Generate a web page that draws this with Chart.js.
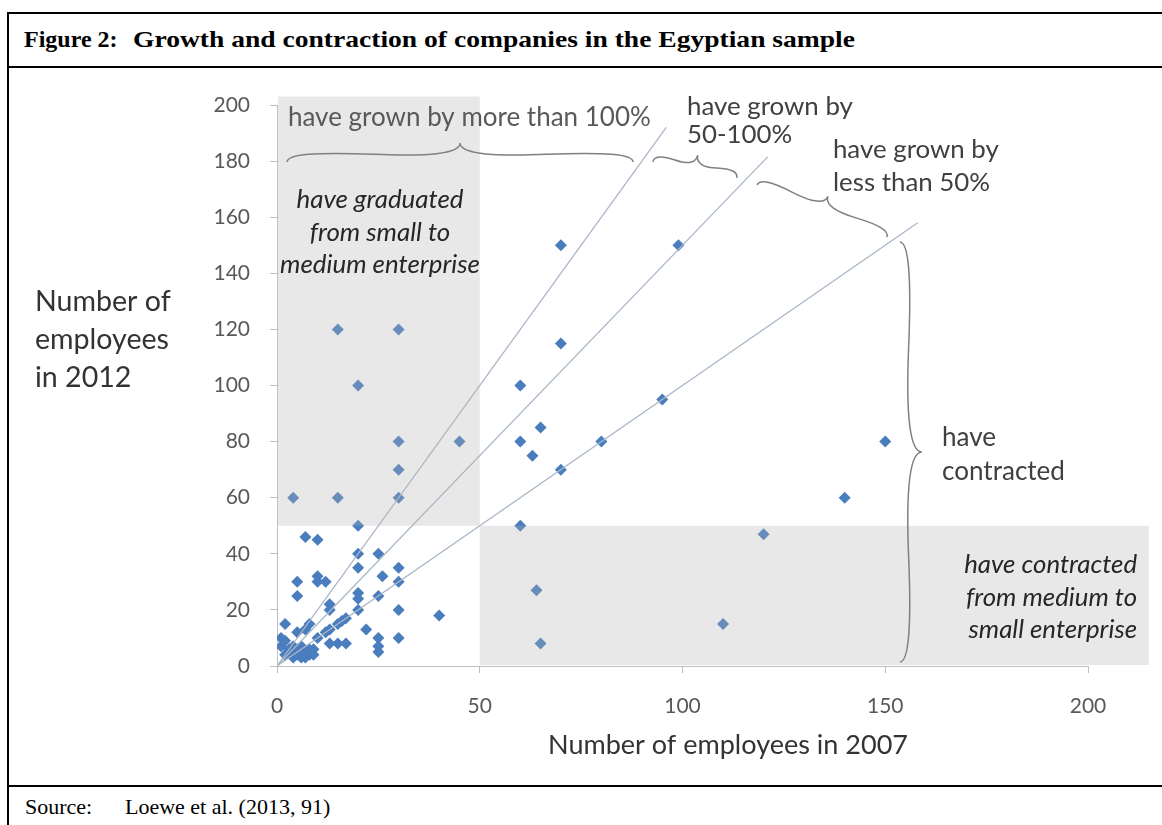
<!DOCTYPE html>
<html><head><meta charset="utf-8">
<script src="https://cdn.jsdelivr.net/npm/chart.js@4.4.1/dist/chart.umd.min.js"></script>
<style>
html,body{margin:0;padding:0;background:#fff;width:1162px;height:825px;overflow:hidden;}
.ln{position:absolute;background:#000;}
.t{position:absolute;font-family:"Liberation Serif","Times New Roman",serif;color:#000;white-space:nowrap;font-size:22px;line-height:22px;}
.h{font-size:24px;line-height:24px;font-weight:bold;}
#ttl{transform-origin:0 50%;}
#wrap{position:absolute;left:9px;top:68px;width:1151px;height:712px;}
</style></head><body>
<div class="ln" style="left:7px;top:12px;width:1155px;height:2px"></div>
<div class="ln" style="left:7px;top:12px;width:2px;height:813px"></div>
<div class="ln" style="left:7px;top:66px;width:1155px;height:2px"></div>
<div class="ln" style="left:7px;top:785px;width:1155px;height:2px"></div>
<div class="t h" style="left:24px;top:27px">Figure 2:</div>
<div class="t h" id="ttl" style="left:133px;top:27px">Growth and contraction of companies in the Egyptian sample</div>
<div class="t" style="left:25px;top:796px">Source:</div>
<div class="t" style="left:125px;top:796px">Loewe et al. (2013, 91)</div>
<div id="wrap"><canvas id="c" width="1151" height="712"></canvas></div>
<script>
// ---- data ----
const xTicks = [0, 50, 100, 150, 200];
const yTicks = [0, 20, 40, 60, 80, 100, 120, 140, 160, 180, 200];
// number of employees in 2007 / 2012, one entry per company
const emp2007 = [70, 99, 15, 30, 70, 20, 60, 95, 65, 30, 45, 60, 80, 150, 63, 30, 70, 4, 15, 30, 140, 20, 60, 120,
  7, 10, 20, 25, 20, 30, 10, 26, 5, 10, 12, 30, 64, 5, 20, 20, 25, 13, 13, 20, 30, 40, 17, 16, 15, 2, 8, 7, 13, 22,
  5, 12, 110, 10, 25, 30, 65, 13, 15, 17, 25, 25,
  1, 2, 1, 3, 4, 5, 6, 7, 8, 9, 2, 4, 6, 7, 5, 8, 3, 6, 9];
const emp2012 = [150, 150, 120, 120, 115, 100, 100, 95, 85, 80, 80, 80, 80, 80, 75, 70, 70, 60, 60, 60, 60, 50, 50, 47,
  46, 45, 40, 40, 35, 35, 32, 32, 30, 30, 30, 30, 27, 25, 26, 24, 25, 22, 20, 20, 20, 18, 17, 16, 15, 15, 15, 13, 13, 13,
  12, 12, 15, 10, 10, 10, 8, 8, 8, 8, 7, 5,
  10, 9, 7, 6, 7, 6, 7, 5, 6, 4, 4, 3, 3, 3, 4, 4, 5, 5, 6];
// guide lines: growth factor (2012/2007) and the 2007 value where each line stops
const guideFactors = [2, 1.5, 1];
const guideEnds = [96, 121, 158];

// fit title width to the reference
(function () {
  const t = document.getElementById('ttl');
  const w = t.getBoundingClientRect().width;
  t.style.transform = 'scaleX(' + (722 / w).toFixed(4) + ')';
})();

// ---- chart ----
const FONT = 'Lato';
const points = emp2007.map((v, i) => ({x: v, y: emp2012[i]}));
const guideSets = guideFactors.map((f, i) => ({
  data: [{x: 0, y: 0}, {x: guideEnds[i], y: guideEnds[i] * f}],
  showLine: true, borderColor: '#A9B6C8', borderWidth: 1.3, pointRadius: 0, fill: false
}));

function brace(ctx, x1, y1, x2, y2, w, q) {
  let dx = x1 - x2, dy = y1 - y2;
  const len = Math.hypot(dx, dy); dx /= len; dy /= len;
  const qx1 = x1 + q * w * dy, qy1 = y1 - q * w * dx;
  const qx2 = (x1 - .25 * len * dx) + (1 - q) * w * dy, qy2 = (y1 - .25 * len * dy) - (1 - q) * w * dx;
  const tx = (x1 - .5 * len * dx) + w * dy, ty = (y1 - .5 * len * dy) - w * dx;
  const qx3 = x2 + q * w * dy, qy3 = y2 - q * w * dx;
  const qx4 = (x1 - .75 * len * dx) + (1 - q) * w * dy, qy4 = (y1 - .75 * len * dy) - (1 - q) * w * dx;
  ctx.beginPath();
  ctx.moveTo(x1, y1);
  ctx.quadraticCurveTo(qx1, qy1, qx2, qy2);
  ctx.quadraticCurveTo(2 * qx2 - qx1, 2 * qy2 - qy1, tx, ty);
  ctx.moveTo(x2, y2);
  ctx.quadraticCurveTo(qx3, qy3, qx4, qy4);
  ctx.quadraticCurveTo(2 * qx4 - qx3, 2 * qy4 - qy3, tx, ty);
  ctx.stroke();
}
function fitSize(ctx, text, style, target) {
  ctx.font = style + ' 30px ' + FONT;
  return 30 * target / ctx.measureText(text).width;
}
function lines(ctx, arr, x, ys, align, style, size, color) {
  ctx.font = style + ' ' + size.toFixed(2) + 'px ' + FONT;
  ctx.fillStyle = color; ctx.textAlign = align; ctx.textBaseline = 'middle';
  arr.forEach((s, i) => ctx.fillText(s, x, ys[i]));
}

const annot = {
  id: 'annot',
  afterDatasetsDraw(chart) {
    const {ctx, scales: {x, y}} = chart;
    const X = v => x.getPixelForValue(v), Y = v => y.getPixelForValue(v);
    ctx.save();
    ctx.fillStyle = 'rgba(178,178,178,0.3)';
    ctx.fillRect(X(0) + 1, Y(203), X(50) - X(0) - 1, Y(50) - Y(203));
    ctx.fillRect(X(50), Y(50), X(215) - X(50), Y(0) - Y(50) - 1);
    ctx.restore();
  },
  afterDraw(chart) {
    const {ctx, scales: {x, y}} = chart;
    const X = v => x.getPixelForValue(v), Y = v => y.getPixelForValue(v);
    ctx.save();
    ctx.strokeStyle = '#808080'; ctx.lineWidth = 1.5;
    brace(ctx, X(87.8), Y(179.7), X(2.5), Y(179.7), 19, 0.6);
    brace(ctx, X(113.4), Y(174), X(92.7), Y(179.7), 15, 0.6);
    brace(ctx, X(150.4), Y(152.9), X(118.4), Y(171.5), 16, 0.6);
    brace(ctx, X(153.6), Y(1.4), X(153.6), Y(151.2), 22, 0.6);

    let s = fitSize(ctx, 'have grown by more than 100%', '', 363);
    lines(ctx, ['have grown by more than 100%'], X(2.7), [Y(195.4)], 'left', '', s, '#595959');
    s = fitSize(ctx, 'have grown by', '', 166);
    lines(ctx, ['have grown by', '50-100%'], X(101.1), [Y(199.3), Y(189.3)], 'left', '', s, '#404040');
    lines(ctx, ['have grown by', 'less than 50%'], X(137.1), [Y(184), Y(172.2)], 'left', '', s, '#404040');
    s = fitSize(ctx, 'medium enterprise', 'italic', 200);
    lines(ctx, ['have graduated', 'from small to', 'medium enterprise'], X(25.4), [Y(166.1), Y(154.4), Y(143)], 'center', 'italic', s, '#262626');
    s = fitSize(ctx, 'contracted', '', 123);
    lines(ctx, ['have', 'contracted'], X(164), [Y(81.3), Y(69.2)], 'left', '', s, '#404040');
    s = fitSize(ctx, 'have contracted', 'italic', 173);
    lines(ctx, ['have contracted', 'from medium to', 'small enterprise'], X(212.1), [Y(36), Y(24.2), Y(12.8)], 'right', 'italic', s, '#262626');
    s = fitSize(ctx, 'employees', '', 134);
    lines(ctx, ['Number of', 'employees', 'in 2012'], 26, [234, 272, 310], 'left', '', s, '#333333');
    s = fitSize(ctx, 'Number of employees in 2007', '', 360);
    lines(ctx, ['Number of employees in 2007'], 719, [677], 'center', '', s, '#333333');
    ctx.restore();
  }
};

const axisCommon = {
  type: 'linear', min: 0, max: 200,
  grid: {display: true, drawOnChartArea: false, drawTicks: true, tickLength: 7, color: '#BFBFBF'},
  border: {display: true, color: '#BFBFBF', width: 1},
};
new Chart(document.getElementById('c'), {
  type: 'scatter',
  data: {datasets: [
    ...guideSets,
    {data: points, pointStyle: 'rectRot', pointRadius: 6, backgroundColor: '#4A7DBE', borderWidth: 0}
  ]},
  options: {
    responsive: false, animation: false, events: [],
    layout: {padding: {left: 0, right: 72, top: 37, bottom: 0}},
    plugins: {legend: {display: false}, tooltip: {enabled: false}},
    scales: {
      x: {...axisCommon,
        afterBuildTicks: s => { s.ticks = xTicks.map(v => ({value: v})); },
        ticks: {font: {family: FONT, size: 21}, color: '#595959', padding: 21, maxRotation: 0},
        afterFit: s => { s.height = 114; }
      },
      y: {...axisCommon,
        afterBuildTicks: s => { s.ticks = yTicks.map(v => ({value: v})); },
        ticks: {font: {family: FONT, size: 21}, color: '#595959', padding: 20},
        afterFit: s => { s.width = 268; }
      }
    }
  },
  plugins: [annot]
});
</script>
</body></html>
